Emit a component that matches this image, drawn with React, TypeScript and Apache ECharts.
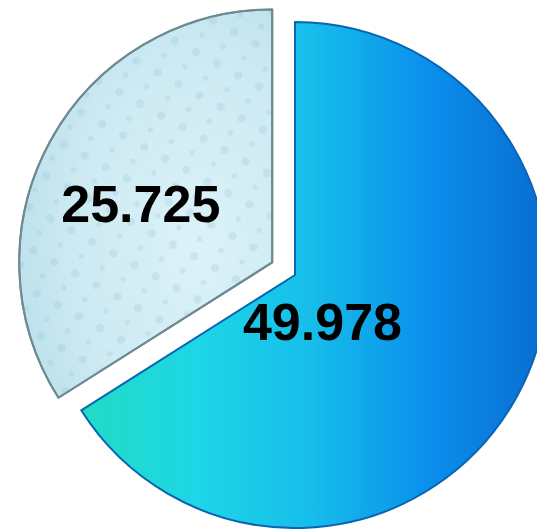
import React, { useEffect, useRef } from "react";
import * as echarts from "echarts";

const labels = ["Segment A", "Segment B"];
const values = [49.978, 25.725];
const selectedFlags = [false, true];

export default function App() {
  const ref = useRef<HTMLDivElement>(null);
  useEffect(() => {
    document.body.style.margin = "0";
    const chart = echarts.init(ref.current!, null, { renderer: "svg" });
    const bigFill = new echarts.graphic.LinearGradient(0, 0, 1, 0, [
      { offset: 0, color: "#20DCC4" },
      { offset: 0.25, color: "#1ED6E6" },
      { offset: 0.5, color: "#16BCEA" },
      { offset: 0.75, color: "#0A8EEC" },
      { offset: 1, color: "#0A6CD0" },
    ]);
    const smallFill = new echarts.graphic.RadialGradient(0.7, 0.6, 0.8, [
      { offset: 0, color: "#DCF2F8" },
      { offset: 0.6, color: "#CDEAF2" },
      { offset: 1, color: "#B8DEEA" },
    ]);
    const fills = [bigFill, smallFill];
    const borders = ["#0A64B4", "#6F8A92"];
    const offsets = [
      [-86, -15],
      [-18, 4],
    ];
    chart.setOption({
      animation: false,
      series: [
        {
          type: "pie",
          center: [295, 275],
          radius: [0, 253],
          startAngle: 90,
          clockwise: true,
          selectedMode: "single",
          selectedOffset: 26,
          avoidLabelOverlap: false,
          emphasis: { disabled: true },
          data: values.map((v, i) => ({
            name: labels[i],
            value: v,
            selected: selectedFlags[i],
            itemStyle: {
              color: fills[i],
              borderColor: borders[i],
              borderWidth: 2,
              decal:
                i === 1
                  ? {
                      symbol: "circle",
                      symbolSize: 0.7,
                      color: "rgba(130,185,210,0.22)",
                      dashArrayX: [[14, 10], [8, 16]],
                      dashArrayY: [12, 6],
                      rotation: 0.5,
                    }
                  : undefined,
            },
            label: { offset: offsets[i] },
            select: { label: { offset: offsets[i] }, itemStyle: { color: fills[i], borderColor: borders[i], borderWidth: 2 } },
          })),
          label: {
            show: true,
            position: "inside",
            formatter: (p: any) => String(p.value),
            fontFamily: "Liberation Sans, Arial, sans-serif",
            fontWeight: "bold",
            fontSize: 52,
            color: "#000",
          },
          labelLine: { show: false },
        },
      ],
    });
    return () => chart.dispose();
  }, []);
  return (
    <div
      ref={ref}
      style={{ position: "absolute", left: 0, top: 0, width: 537, height: 529 }}
    />
  );
}
